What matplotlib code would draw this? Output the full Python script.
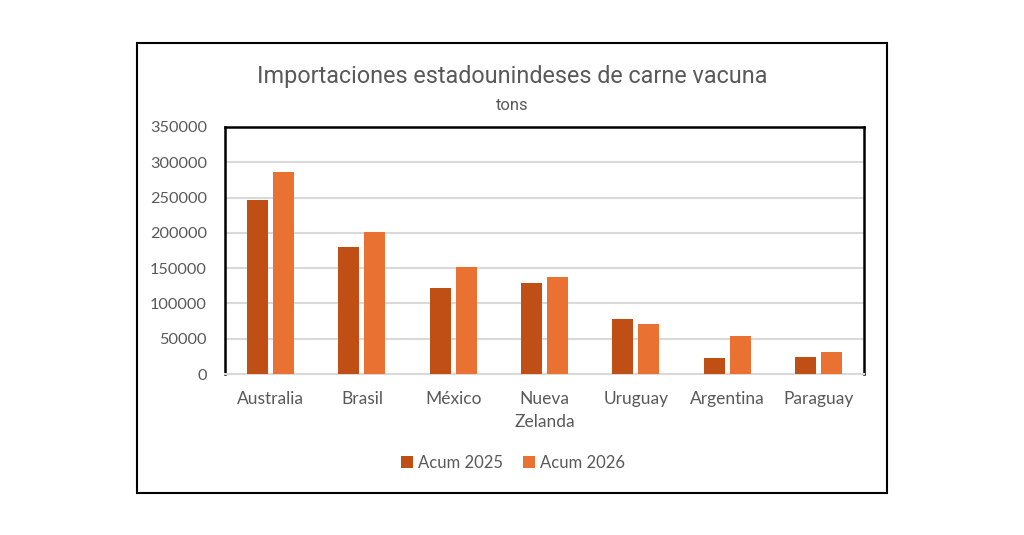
import matplotlib
matplotlib.use("Agg")
import matplotlib.pyplot as plt
import numpy as np
from matplotlib.patches import Rectangle
from matplotlib.font_manager import fontManager

categories = ["Australia", "Brasil", "México", "Nueva\nZelanda", "Uruguay", "Argentina", "Paraguay"]
acum_2025 = [247000, 180000, 122000, 129000, 78000, 23000, 24000]
acum_2026 = [286000, 201000, 152000, 138000, 71000, 54000, 31000]
series_names = ["Acum 2025", "Acum 2026"]
yticks = [0, 50000, 100000, 150000, 200000, 250000, 300000, 350000]

names = {f.name for f in fontManager.ttflist}
narrow = "Roboto" if "Roboto" in names else "DejaVu Sans"
body = "Lato" if "Lato" in names else "DejaVu Sans"

c25 = "#C04F15"
c26 = "#E97132"
txt = "#595959"

fig = plt.figure(figsize=(10.24, 5.35), dpi=100)
fig.patch.set_facecolor("white")

# outer border
fig.patches.append(Rectangle((137/1024, (535-493)/535), 750/1024, 450/535,
                             transform=fig.transFigure, fill=False,
                             edgecolor="black", linewidth=1.5, zorder=0))

ax = fig.add_axes([225/1024, (535-374)/535, 639/1024, 247/535])
x = np.arange(len(categories))
w = 0.23
gap = 0.055
ax.bar(x - (w+gap)/2, acum_2025, width=w, color=c25, label=series_names[0], zorder=3)
ax.bar(x + (w+gap)/2, acum_2026, width=w, color=c26, label=series_names[1], zorder=3)

ax.set_xlim(-0.5, len(categories) - 0.5)
ax.set_ylim(0, 350000)
ax.set_yticks(yticks)
ax.set_yticklabels([str(v) for v in yticks])
ax.set_xticks(x)
ax.set_xticklabels(categories, linespacing=1.6)
ax.yaxis.grid(True, color="#D9D9D9", linewidth=1.5, zorder=0)
ax.set_axisbelow(True)
ax.tick_params(axis="both", length=0, colors=txt)
ax.tick_params(axis="y", pad=13, labelsize=11.7)
ax.tick_params(axis="x", pad=12, labelsize=12.5)
for lab in ax.get_xticklabels() + ax.get_yticklabels():
    lab.set_fontfamily(body)
    lab.set_color(txt)
for s in ["left", "top", "right"]:
    ax.spines[s].set_color("black")
    ax.spines[s].set_linewidth(1.8)
ax.spines["bottom"].set_color("#D9D9D9")
ax.spines["bottom"].set_linewidth(1.5)

fig.text(512/1024, 1 - 77/535, "Importaciones estadounindeses de carne vacuna",
         ha="center", va="center", fontsize=16.8, color=txt, fontfamily=narrow)
fig.text(512/1024, 1 - 106/535, "tons", ha="center", va="center",
         fontsize=12, color=txt, fontfamily=narrow)

leg = fig.legend(loc="center", bbox_to_anchor=(513/1024, 1 - 463/535), ncol=2,
                 frameon=False, prop={"family": body, "size": 12},
                 handlelength=0.7, handleheight=0.7, handletextpad=0.3,
                 columnspacing=1.25)
for t in leg.get_texts():
    t.set_color(txt)

fig.savefig("out.png", dpi=100, facecolor="white")
